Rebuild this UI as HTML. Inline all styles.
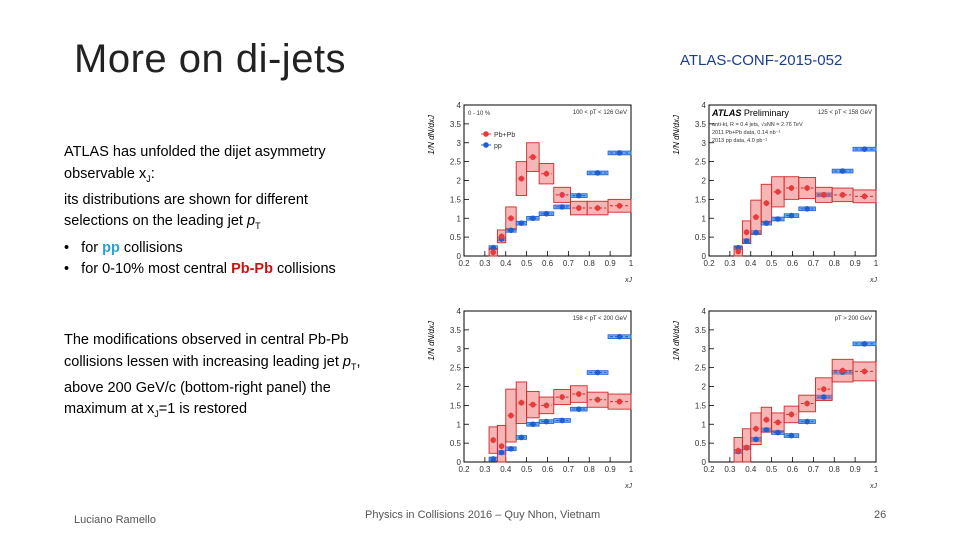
<!DOCTYPE html>
<html><head><meta charset="utf-8">
<style>
body{margin:0;background:#fff;}
#slide{position:relative;width:960px;height:540px;overflow:hidden;background:#fff;font-family:"Liberation Sans",sans-serif;color:#000;}
.t{position:absolute;white-space:nowrap;}
.body{font-size:14.5px;line-height:21.5px;}
sub{font-size:9px;}
svg{position:absolute;left:0;top:0;}
</style></head>
<body>
<div id="slide">
<div class="t" style="left:74px;top:37px;font-size:40px;color:#222;letter-spacing:0.5px;">More on di-jets</div>
<div class="t" style="left:680px;top:52px;font-size:15px;color:#1a3d8f;">ATLAS-CONF-2015-052</div>
<div class="t body" style="left:64px;top:142px;">ATLAS has unfolded the dijet asymmetry<br>observable x<sub>J</sub>:<br>its distributions are shown for different<br>selections on the leading jet <i>p</i><sub>T</sub><br>•&nbsp;&nbsp; for <b style="color:#2aa0d8">pp</b> collisions<br>•&nbsp;&nbsp; for 0-10% most central <b style="color:#d01010">Pb-Pb</b> collisions</div>
<div class="t body" style="left:64px;top:330px;">The modifications observed in central Pb-Pb<br>collisions lessen with increasing leading jet <i>p</i><sub>T</sub>,<br>above 200 GeV/c (bottom-right panel) the<br>maximum at x<sub>J</sub>=1 is restored</div>
<div class="t" style="left:74px;top:514px;font-size:11px;color:#555;">Luciano Ramello</div>
<div class="t" style="left:365px;top:509px;font-size:11px;color:#555;">Physics in Collisions 2016 – Quy Nhon, Vietnam</div>
<div class="t" style="left:874px;top:509px;font-size:11px;color:#555;">26</div>
<svg id="charts" width="960" height="540"></svg>
</div>
<script>
const binEdges=[0.32,0.36,0.40,0.45,0.50,0.56,0.63,0.71,0.79,0.89,1.0];
const xTicks=[0.2,0.3,0.4,0.5,0.6,0.7,0.8,0.9,1];
const xTickLabels=["0.2","0.3","0.4","0.5","0.6","0.7","0.8","0.9","1"];
const yTicks=[0,0.5,1,1.5,2,2.5,3,3.5,4];
const yTickLabels=["0","0.5","1","1.5","2","2.5","3","3.5","4"];
const pbpb1=[0.1,0.52,1.0,2.05,2.62,2.18,1.62,1.27,1.27,1.33];
const pbpbSys1=[0.1,0.17,0.3,0.45,0.38,0.27,0.2,0.18,0.18,0.17];
const pp1=[0.22,0.45,0.68,0.87,1.0,1.12,1.3,1.6,2.2,2.73];
const pbpb2=[0.12,0.63,1.03,1.4,1.7,1.8,1.8,1.62,1.62,1.58];
const pbpbSys2=[0.12,0.3,0.45,0.5,0.4,0.3,0.28,0.2,0.18,0.17];
const pp2=[0.22,0.4,0.62,0.87,0.98,1.07,1.25,1.62,2.25,2.83];
const pbpb3=[0.58,0.42,1.23,1.57,1.52,1.5,1.72,1.8,1.65,1.6];
const pbpbSys3=[0.35,0.55,0.7,0.55,0.35,0.22,0.2,0.22,0.2,0.2];
const pp3=[0.08,0.25,0.35,0.65,1.0,1.07,1.1,1.4,2.37,3.32];
const pbpb4=[0.3,0.38,0.88,1.12,1.05,1.26,1.55,1.93,2.42,2.4];
const pbpbSys4=[0.35,0.5,0.42,0.33,0.25,0.22,0.22,0.3,0.3,0.25];
const pp4=[0.28,0.38,0.6,0.85,0.78,0.7,1.07,1.72,2.38,3.13];
const panelLabels=["100 < pT < 126 GeV","125 < pT < 158 GeV","158 < pT < 200 GeV","pT > 200 GeV"];

const svg=document.getElementById('charts');
const NS='http://www.w3.org/2000/svg';
function mk(tag,attrs,parent){const e=document.createElementNS(NS,tag);for(const k in attrs)e.setAttribute(k,attrs[k]);(parent||svg).appendChild(e);return e;}

const panels=[
 {x0:464,x1:631,y0:256,y1:105,pb:pbpb1,sys:pbpbSys1,pp:pp1,name:'panel-top-left'},
 {x0:709,x1:876,y0:256,y1:105,pb:pbpb2,sys:pbpbSys2,pp:pp2,name:'panel-top-right'},
 {x0:464,x1:631,y0:462,y1:311,pb:pbpb3,sys:pbpbSys3,pp:pp3,name:'panel-bottom-left'},
 {x0:709,x1:876,y0:462,y1:311,pb:pbpb4,sys:pbpbSys4,pp:pp4,name:'panel-bottom-right'}];

panels.forEach((p,pi)=>{
 const g=mk('g',{});
 
 
 const X=v=>p.x0+(v-0.2)/0.8*(p.x1-p.x0);
 const Y=v=>p.y0-(v/4)*(p.y0-p.y1);
 const frame=mk('rect',{x:p.x0,y:p.y1,width:p.x1-p.x0,height:p.y0-p.y1,fill:'none',stroke:'#000','stroke-width':1},g);
 
 
 xTicks.forEach((t,i)=>{
  mk('line',{x1:X(t),x2:X(t),y1:p.y0,y2:p.y0-5,stroke:'#000','stroke-width':0.8},g);
  const tx=mk('text',{x:X(t),y:p.y0+10,'font-size':8,'text-anchor':'middle',fill:'#333'},g);
  tx.textContent=xTickLabels[i];
  
  
 });
 yTicks.forEach((t,i)=>{
  mk('line',{x1:p.x0,x2:p.x0+5,y1:Y(t),y2:Y(t),stroke:'#000','stroke-width':0.8},g);
  const tx=mk('text',{x:p.x0-3,y:Y(t)+3,'font-size':8,'text-anchor':'end',fill:'#333'},g);
  tx.textContent=yTickLabels[i];
  
  
 });
 const xl=mk('text',{x:p.x1-6,y:p.y0+26,'font-size':7,'font-style':'italic',fill:'#333'},g);
 xl.textContent='xJ';
 
 
 const yl=mk('text',{x:p.x0-30,y:p.y1+10,'font-size':8,'font-style':'italic',fill:'#000',transform:`rotate(-90 ${p.x0-30} ${p.y1+10})`,'text-anchor':'end'},g);
 yl.textContent='1/N dN/dxJ';
 
 
 const lab=mk('text',{x:p.x1-4,y:p.y1+9,'font-size':6,'text-anchor':'end',fill:'#333'},g);
 lab.textContent=panelLabels[pi];
 
 
 for(let i=0;i<p.pb.length;i++){
  const a=X(binEdges[i]),b=X(binEdges[i+1]),c=(a+b)/2;
  const ppv=p.pp[i];
  const pb=mk('rect',{x:a,y:Y(ppv+0.05),width:b-a,height:Y(ppv-0.05)-Y(ppv+0.05),fill:'#6aa8f0',stroke:'#1f5fd0','stroke-width':0.8},g);
  
  
  const lo=Math.max(0,p.pb[i]-p.sys[i]);
  const r=mk('rect',{x:a,y:Y(p.pb[i]+p.sys[i]),width:b-a,height:Y(lo)-Y(p.pb[i]+p.sys[i]),fill:'rgba(240,110,110,0.5)',stroke:'#d02828','stroke-width':0.9},g);
  
  
  mk('line',{x1:a+2,x2:b-2,y1:Y(ppv),y2:Y(ppv),stroke:'#1f5fd0','stroke-width':1,'stroke-dasharray':'3,2'},g);
  const pd=mk('circle',{cx:c,cy:Y(ppv),r:2.8,fill:'#1f5fd0'},g);
  
  
  mk('line',{x1:a+2,x2:b-2,y1:Y(p.pb[i]),y2:Y(p.pb[i]),stroke:'#d02828','stroke-width':1,'stroke-dasharray':'3,2'},g);
  mk('line',{x1:c,x2:c,y1:Y(p.pb[i]+0.08),y2:Y(Math.max(0,p.pb[i]-0.08)),stroke:'#e03030','stroke-width':1},g);
  const d=mk('circle',{cx:c,cy:Y(p.pb[i]),r:2.8,fill:'#e83a3a'},g);
  
  
 }
});
(function(){
 const lg=mk('g',{});
 
 
 mk('circle',{cx:486,cy:134,r:2.8,fill:'#e83a3a'},lg);
 mk('line',{x1:481,x2:491,y1:134,y2:134,stroke:'#e83a3a'},lg);
 const t1=mk('text',{x:494,y:137,'font-size':7,fill:'#333'},lg);t1.textContent='Pb+Pb';
 mk('circle',{cx:486,cy:145,r:2.8,fill:'#1f5fd0'},lg);
 mk('line',{x1:481,x2:491,y1:145,y2:145,stroke:'#1f5fd0'},lg);
 const t2=mk('text',{x:494,y:148,'font-size':7,fill:'#333'},lg);t2.textContent='pp';
 const c1=mk('text',{x:468,y:115,'font-size':6,fill:'#333'},lg);c1.textContent='0 - 10 %';
 const a=mk('text',{x:712,y:116,'font-size':9,fill:'#000'},lg);
 a.innerHTML='<tspan font-weight="bold" font-style="italic">ATLAS</tspan> Preliminary';
 const l1=mk('text',{x:712,y:126,'font-size':5.5,fill:'#333'},lg);l1.textContent='anti-kt, R = 0.4 jets, √sNN = 2.76 TeV';
 const l2=mk('text',{x:712,y:134,'font-size':5.5,fill:'#333'},lg);l2.textContent='2011 Pb+Pb data, 0.14 nb⁻¹';
 const l3=mk('text',{x:712,y:142,'font-size':5.5,fill:'#333'},lg);l3.textContent='2013 pp data, 4.0 pb⁻¹';
})();
</script>
</body></html>
